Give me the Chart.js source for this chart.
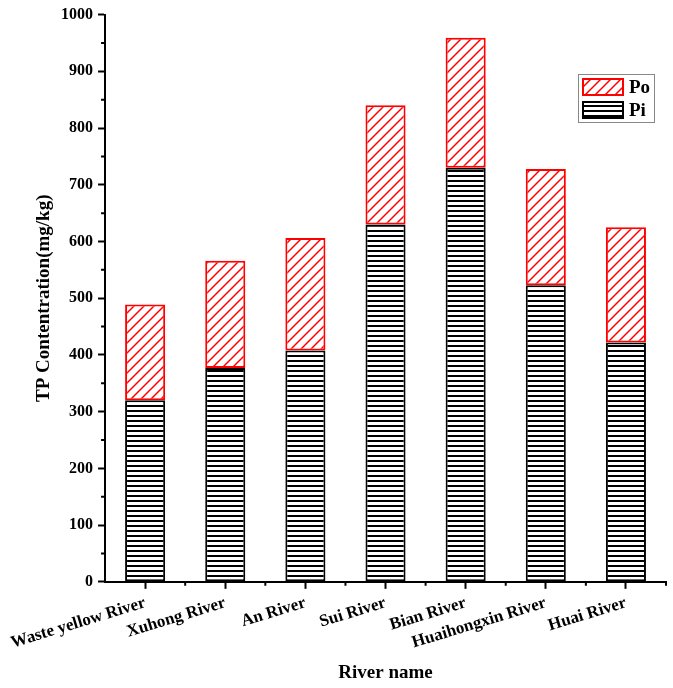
<!DOCTYPE html>
<html>
<head>
<meta charset="utf-8">
<script src="https://cdn.jsdelivr.net/npm/chart.js@4.4.0/dist/chart.umd.min.js"></script>
<style>
  body { margin: 0; background: #fff; }
  #wrap { width: 673px; height: 688px; }
</style>
</head>
<body>
<div id="wrap"><canvas id="bar_chart" width="673" height="688"></canvas></div>
<script>
// data (mg/kg)
const rivers = ['Waste yellow River', 'Xuhong River', 'An River', 'Sui River',
                'Bian River', 'Huaihongxin River', 'Huai River'];
const piValues = [320, 377, 408, 630, 730, 523, 422];
const poValues = [169, 189, 198, 210, 229, 205, 203];
const yTicks = [0, 100, 200, 300, 400, 500, 600, 700, 800, 900, 1000];

const serif = '"Liberation Serif", "Times New Roman", serif';

// hatch fills
function hatchLines() {
  var c = document.createElement('canvas');
  c.width = 8; c.height = 5;
  var g = c.getContext('2d');
  g.fillStyle = '#fff'; g.fillRect(0, 0, 8, 5);
  g.fillStyle = '#000'; g.fillRect(0, 0, 8, 2);
  return g.createPattern(c, 'repeat');
}
function hatchDiag() {
  var c = document.createElement('canvas');
  c.width = 10; c.height = 10;
  var g = c.getContext('2d');
  g.fillStyle = '#fff'; g.fillRect(0, 0, 10, 10);
  g.strokeStyle = '#ff0000'; g.lineWidth = 1.5;
  g.beginPath();
  g.moveTo(0, 10); g.lineTo(10, 0);
  g.moveTo(-5, 5); g.lineTo(5, -5);
  g.moveTo(5, 15); g.lineTo(15, 5);
  g.stroke();
  return g.createPattern(c, 'repeat');
}
const piFill = hatchLines();
const poFill = hatchDiag();

// minor ticks + boxed legend
const extras = {
  id: 'extras',
  afterDraw(chart) {
    var ctx = chart.ctx, a = chart.chartArea;
    var x = chart.scales.x, y = chart.scales.y;
    ctx.save();
    ctx.strokeStyle = '#000';
    ctx.lineWidth = 2;
    ctx.beginPath();
    for (var i = 0; i < yTicks.length - 1; i++) {
      var py = y.getPixelForValue((yTicks[i] + yTicks[i + 1]) / 2);
      ctx.moveTo(a.left - 4, py); ctx.lineTo(a.left, py);
    }
    for (var j = 1; j <= rivers.length; j++) {
      var px = x.getPixelForValue(j - 0.5);
      ctx.moveTo(px, a.bottom); ctx.lineTo(px, a.bottom + 4);
    }
    ctx.stroke();

    // legend
    var lx = a.right - 88, ly = 74;
    ctx.lineWidth = 1;
    ctx.strokeStyle = '#888';
    ctx.strokeRect(lx + 0.5, ly + 0.5, 76, 48);
    var items = [[poFill, '#ff0000', 'Po'], [piFill, '#000', 'Pi']];
    ctx.font = 'bold 19px ' + serif;
    ctx.textBaseline = 'middle';
    items.forEach(function (it, k) {
      var sy = ly + 5 + k * 23;
      ctx.fillStyle = it[0];
      ctx.fillRect(lx + 5, sy, 40, 16);
      ctx.lineWidth = 2;
      ctx.strokeStyle = it[1];
      ctx.strokeRect(lx + 5, sy, 40, 16);
      ctx.fillStyle = '#000';
      ctx.fillText(it[2], lx + 51, sy + 9);
    });
    ctx.restore();
  }
};

new Chart(document.getElementById('bar_chart'), {
  type: 'bar',
  data: {
    labels: rivers,
    datasets: [
      { label: 'Pi', data: piValues, backgroundColor: piFill, borderColor: '#000',
        borderWidth: 2, borderSkipped: false },
      { label: 'Po', data: poValues, backgroundColor: poFill, borderColor: '#ff0000',
        borderWidth: 2, borderSkipped: false }
    ]
  },
  options: {
    responsive: false,
    animation: false,
    layout: { padding: { left: 28, right: 7, top: 5, bottom: 0 } },
    datasets: { bar: { barPercentage: 1, categoryPercentage: 0.5 } },
    plugins: { legend: { display: false }, tooltip: { enabled: false } },
    scales: {
      x: {
        stacked: true,
        grid: { display: true, drawOnChartArea: false, drawTicks: true, tickLength: 7,
                tickWidth: 2, tickColor: '#000', offset: false },
        border: { display: true, color: '#000', width: 2 },
        ticks: { color: '#000', font: { family: serif, size: 17, weight: 'bold' },
                 maxRotation: 17, minRotation: 17, autoSkip: false, padding: 4 },
        title: { display: true, text: 'River name', color: '#000',
                 font: { family: serif, size: 19, weight: 'bold' }, padding: { top: 4 } }
      },
      y: {
        stacked: true,
        min: 0, max: 1000,
        afterBuildTicks: function (s) { s.ticks = yTicks.map(function (v) { return { value: v }; }); },
        grid: { display: true, drawOnChartArea: false, drawTicks: true, tickLength: 7,
                tickWidth: 2, tickColor: '#000' },
        border: { display: true, color: '#000', width: 2 },
        ticks: { color: '#000', font: { family: serif, size: 16, weight: 'bold' }, padding: 5,
                 callback: function (v) { return String(v); } },
        title: { display: true, text: 'TP Contentration(mg/kg)', color: '#000',
                 font: { family: serif, size: 19, weight: 'bold' }, padding: { bottom: 1 } }
      }
    }
  },
  plugins: [extras]
});
</script>
</body>
</html>
